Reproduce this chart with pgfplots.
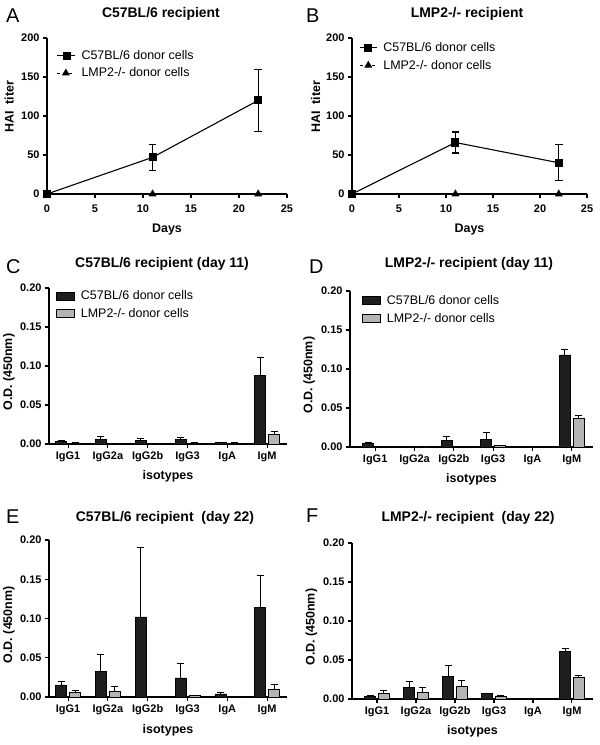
\documentclass[border=0pt]{standalone}
\usepackage{fontspec}
\setmainfont{Liberation Sans}
\usepackage{pgfplots}
\pgfplotsset{compat=1.18}
\usepackage{pgfplotstable}
\definecolor{bardark}{HTML}{1E1E1E}
\definecolor{barlight}{HTML}{B4B4B4}

% line panels: x y e
\pgfplotstableread{
x y e
0 0 0
11 47 17
22 120 40
}\tabAw
\pgfplotstableread{
x y e
0 0 0
11 66 13.5
22 40 23
}\tabBw
\pgfplotstableread{
x y
0 0
11 0
22 0
}\tabZero

% bar panels: x cb eb cg eg
\pgfplotstableread{
x cb eb cg eg
0 0.0035 0.001 0.0015 0.0005
1 0.0055 0.0035 0 0
2 0.0045 0.002 0 0
3 0.0055 0.003 0.001 0.0003
4 0.002 0 0.001 0.0003
5 0.088 0.023 0.0125 0.0035
}\tabC
\pgfplotstableread{
x cb eb cg eg
0 0.005 0.001 0.001 0
1 0 0 0 0
2 0.008 0.0057 0.0005 0
3 0.010 0.0088 0.0018 0.0007
4 0.0005 0 0.001 0
5 0.118 0.0065 0.037 0.003
}\tabD
\pgfplotstableread{
x cb eb cg eg
0 0.0153 0.005 0.006 0.0025
1 0.033 0.0206 0.0068 0.0062
2 0.102 0.0886 0 0
3 0.0243 0.0183 0.0018 0.0005
4 0.004 0.0012 0 0
5 0.114 0.041 0.0094 0.0063
}\tabE
\pgfplotstableread{
x cb eb cg eg
0 0.0034 0.0008 0.0068 0.0038
1 0.0153 0.0073 0.0081 0.0072
2 0.029 0.014 0.0157 0.0077
3 0.0068 0.0007 0.0038 0.0009
4 0 0 0 0
5 0.0609 0.0038 0.0272 0.003
}\tabF

\pgfplotsset{
 panel/.style={
  scale only axis, anchor=south west, clip=false,
  axis lines*=left,
  axis line style={line width=1.2pt},
  every tick/.style={black, line width=1.1pt},
  tick align=outside,
  major tick length=4bp,
  tick label style={font=\bfseries\fontsize{11}{13}\selectfont},
  /pgf/number format/assume math mode=true,
  xlabel style={font=\bfseries\fontsize{12.5}{14}\selectfont, anchor=center},
  ylabel style={font=\bfseries\fontsize{12.5}{14}\selectfont, anchor=center},
  legend style={draw=none, fill=none, font=\fontsize{12.5}{14}\selectfont, anchor=north west,
    row sep=3bp, column sep=4bp, inner sep=0pt},
  legend cell align=left,
 },
 lineplot/.style={panel, xmin=0, xmax=25, ymin=0, ymax=200,
  xtick={0,5,10,15,20,25}, ytick={0,50,100,150,200},
  xticklabel style={yshift=-3bp},
  xlabel={Days}, ylabel={HAI\ \ titer}},
 barplot/.style={panel, ymin=0, ymax=0.2, ytick={0,0.05,0.1,0.15,0.2},
  scaled y ticks=false,
  yticklabel style={/pgf/number format/.cd, fixed, fixed zerofill, precision=2},
  xtick={0,1,2,3,4,5}, xticklabels={IgG1,IgG2a,IgG2b,IgG3,IgA,IgM},
  xlabel={isotypes}, ylabel={O.D. (450nm)}},
 wt/.style={black, line width=1.1pt, mark=square*, mark size=3.5bp, mark options={solid},
  error bars/y dir=both, error bars/y explicit, error bars/error bar style={line width=1.1pt, solid},
  error bars/error mark options={rotate=90, line width=1.1pt, mark size=3.8bp, solid}},
 ko/.style={black, line width=1.1pt, dashed, mark=triangle*, mark size=3.5bp, mark options={solid}},
 bb/.style={ybar, bar width=11bp, bar shift=0pt, fill=bardark, draw=black, line width=0.6pt,
  error bars/y dir=plus, error bars/y explicit, error bars/error bar style={line width=1pt, black},
  error bars/error mark options={rotate=90, line width=1pt, mark size=3.5bp, black}},
 bg/.style={ybar, bar width=11bp, bar shift=0pt, fill=barlight, draw=black, line width=0.6pt,
  error bars/y dir=plus, error bars/y explicit, error bars/error bar style={line width=1pt, black},
  error bars/error mark options={rotate=90, line width=1pt, mark size=3.5bp, black}},
 legdark/.style={legend image code/.code={\draw[fill=bardark, draw=black, line width=0.6pt] (0bp,-4bp) rectangle (18bp,4bp);}},
 leglight/.style={legend image code/.code={\draw[fill=barlight, draw=black, line width=0.6pt] (0bp,-4bp) rectangle (18bp,4bp);}},
 legsquare/.style={legend image code/.code={\path (0bp,0bp) -- (18bp,0bp);
   \path[black] plot[only marks, mark=square*, mark size=3.5bp] coordinates {(9bp,0bp)};}},
}

\begin{document}
\begin{tikzpicture}
\useasboundingbox (0,0) rectangle (600bp,745bp);

% ---------- A ----------
\begin{axis}[lineplot, at={(47bp,551bp)}, width=240bp, height=156bp,
  ylabel style={at={(axis description cs:-0.158,0.56)}},
  xlabel style={at={(axis description cs:0.5,-0.225)}},
  legend style={at={(axis description cs:0.04,0.935)}}]
\addlegendimage{legsquare}
\addlegendentry{C57BL/6 donor cells}
\addlegendimage{ko}
\addlegendentry{LMP2-/- donor cells}
\addplot[ko, forget plot] table[x=x, y=y] \tabZero;
\addplot[wt, forget plot] table[x=x, y=y, y error=e] \tabAw;
\end{axis}

% ---------- B ----------
\begin{axis}[lineplot, at={(352bp,551bp)}, width=235bp, height=156bp,
  ylabel style={at={(axis description cs:-0.155,0.56)}},
  xlabel style={at={(axis description cs:0.5,-0.225)}},
  legend style={at={(axis description cs:0.03,0.985)}}]
\addlegendimage{black, line width=1.1pt, mark=square*, mark size=3.5bp}
\addlegendentry{C57BL/6 donor cells}
\addlegendimage{ko}
\addlegendentry{LMP2-/- donor cells}
\addplot[ko, forget plot] table[x=x, y=y] \tabZero;
\addplot[wt, forget plot] table[x=x, y=y, y error=e] \tabBw;
\end{axis}

% ---------- C ----------
\begin{axis}[barplot, at={(49bp,301bp)}, width=238bp, height=156bp,
  xmin=-0.48, xmax=5.5,
  ylabel style={at={(axis description cs:-0.168,0.46)}},
  xlabel style={at={(axis description cs:0.5,-0.21)}},
  legend style={at={(axis description cs:0.03,0.995)}}]
\addlegendimage{legdark}
\addlegendentry{C57BL/6 donor cells}
\addlegendimage{leglight}
\addlegendentry{LMP2-/- donor cells}
\addplot[bb, forget plot] table[x expr=\thisrow{x}-0.176, y=cb, y error=eb] \tabC;
\addplot[bg, forget plot] table[x expr=\thisrow{x}+0.176, y=cg, y error=eg] \tabC;
\end{axis}

% ---------- D ----------
\begin{axis}[barplot, at={(350bp,298bp)}, width=243bp, height=156bp,
  xmin=-0.64, xmax=5.54,
  ylabel style={at={(axis description cs:-0.168,0.46)}},
  xlabel style={at={(axis description cs:0.5,-0.21)}},
  legend style={at={(axis description cs:0.05,0.985)}}]
\addlegendimage{legdark}
\addlegendentry{C57BL/6 donor cells}
\addlegendimage{leglight}
\addlegendentry{LMP2-/- donor cells}
\addplot[bb, forget plot] table[x expr=\thisrow{x}-0.178, y=cb, y error=eb] \tabD;
\addplot[bg, forget plot] table[x expr=\thisrow{x}+0.178, y=cg, y error=eg] \tabD;
\end{axis}

% ---------- E ----------
\begin{axis}[barplot, at={(49bp,48bp)}, width=238bp, height=157bp,
  xmin=-0.48, xmax=5.5,
  ylabel style={at={(axis description cs:-0.168,0.46)}},
  xlabel style={at={(axis description cs:0.5,-0.21)}}]
\addplot[bb] table[x expr=\thisrow{x}-0.176, y=cb, y error=eb] \tabE;
\addplot[bg] table[x expr=\thisrow{x}+0.176, y=cg, y error=eg] \tabE;
\end{axis}

% ---------- F ----------
\begin{axis}[barplot, at={(352bp,46bp)}, width=241bp, height=156bp,
  xmin=-0.64, xmax=5.54,
  ylabel style={at={(axis description cs:-0.168,0.46)}},
  xlabel style={at={(axis description cs:0.5,-0.21)}}]
\addplot[bb] table[x expr=\thisrow{x}-0.178, y=cb, y error=eb] \tabF;
\addplot[bg] table[x expr=\thisrow{x}+0.178, y=cg, y error=eg] \tabF;
\end{axis}

% titles and panel letters
\begin{scope}[every node/.style={font=\bfseries\fontsize{14}{16}\selectfont}]
\node at (161bp,731bp) {C57BL/6 recipient};
\node at (467bp,731bp) {LMP2-/- recipient};
\node at (162bp,481bp) {C57BL/6 recipient (day 11)};
\node at (469bp,481bp) {LMP2-/- recipient (day 11)};
\node at (165bp,227bp) {C57BL/6 recipient\ \ (day 22)};
\node at (468bp,227bp) {LMP2-/- recipient\ \ (day 22)};
\end{scope}
\begin{scope}[every node/.style={anchor=west, inner sep=0pt, font=\fontsize{20}{22}\selectfont}]
\node at (6bp,729bp) {A};
\node at (306bp,729bp) {B};
\node at (6bp,478bp) {C};
\node at (309bp,478bp) {D};
\node at (6bp,228bp) {E};
\node at (306bp,229bp) {F};
\end{scope}
\end{tikzpicture}
\end{document}
